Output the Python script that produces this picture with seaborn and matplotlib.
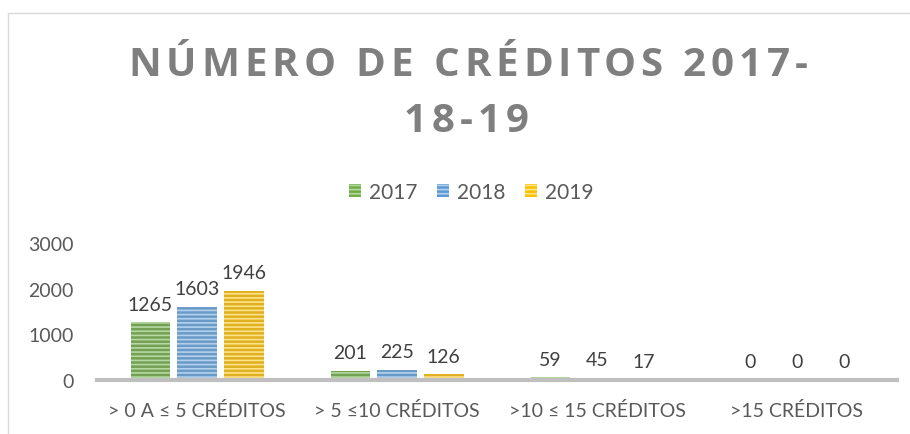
import pandas as pd
import matplotlib.pyplot as plt
import seaborn as sns
from matplotlib.patches import Patch, Rectangle

categorias = ['> 0 A ≤ 5 CRÉDITOS', '> 5 ≤10 CRÉDITOS', '>10 ≤ 15 CRÉDITOS', '>15 CRÉDITOS']
anos = ['2017', '2018', '2019']
valores_2017 = [1265, 201, 59, 0]
valores_2018 = [1603, 225, 45, 0]
valores_2019 = [1946, 126, 17, 0]

colores = ['#70AD47', '#5B9BD5', '#FFC000']
rayas = ['#B5D9A0', '#B3D1EE', '#FFE38A']

df = pd.DataFrame({
    'categoria': categorias * 3,
    'ano': [a for a in anos for _ in categorias],
    'valor': valores_2017 + valores_2018 + valores_2019,
})


def texto_espaciado(fig, x_centro, y, s, extra, **kw):
    """
    Texto con espaciado entre letras (como el título de Excel), en píxeles
    """
    r = fig.canvas.get_renderer()
    W = fig.bbox.width

    def ancho(txt):
        t = fig.text(0, 0, txt, **kw)
        w = t.get_window_extent(r).width
        t.remove()
        return w

    total = ancho(s) + extra * (len(s) - 1)
    x0 = x_centro - total / 2
    for i, ch in enumerate(s):
        if ch == ' ':
            continue
        izq = ancho(s[:i + 1]) - ancho(ch) + extra * i
        fig.text((x0 + izq) / W, y, ch, ha='left', va='center', **kw)


sns.set_theme(style='white')
plt.rcParams['font.family'] = ['Lato', 'DejaVu Sans']
plt.rcParams['hatch.linewidth'] = 1.2

fig = plt.figure(figsize=(9.1, 4.35), dpi=100)
ax = fig.add_axes([97 / 910, 54 / 435, 800 / 910, 137 / 435])

sns.barplot(data=df, x='categoria', y='valor', hue='ano', palette=colores,
            width=0.7, gap=0.15, legend=False, ax=ax)

for cont, raya in zip(ax.containers, rayas):
    for p in cont:
        p.set_hatch('----')
        p.set_edgecolor(raya)
        p.set_linewidth(0)
    ax.bar_label(cont, padding=7, fontsize=14, color='#404040')

ax.set_ylim(0, 3000)
ax.set_yticks([0, 1000, 2000, 3000])
ax.set_xlabel('')
ax.set_ylabel('')
ax.tick_params(axis='y', length=0, pad=17, labelsize=14, labelcolor='#595959')
ax.tick_params(axis='x', length=0, pad=15, labelsize=14, labelcolor='#595959')
for s in ['top', 'right', 'left']:
    ax.spines[s].set_visible(False)
ax.spines['bottom'].set_color('#BFBFBF')
ax.spines['bottom'].set_linewidth(3)

# marco del gráfico
fig.patches.append(Rectangle((8 / 910, -0.05), 1.0, 1.05 - 14 / 435, transform=fig.transFigure,
                             fill=False, edgecolor='#D9D9D9', linewidth=1))

estilo_titulo = dict(fontsize=29, fontweight='bold', color='#7F7F7F', family='Open Sans')
texto_espaciado(fig, 468, 1 - 65 / 435, 'NÚMERO DE CRÉDITOS 2017-', 4.9, **estilo_titulo)
texto_espaciado(fig, 466, 1 - 122 / 435, '18-19', 4.9, **estilo_titulo)

handles = [Patch(facecolor=c, edgecolor=r, hatch='----', linewidth=0) for c, r in zip(colores, rayas)]
fig.legend(handles, anos, loc='center', bbox_to_anchor=(471 / 910, 1 - 193 / 435), ncol=3,
           frameon=False, fontsize=15, labelcolor='#595959', handlelength=0.6, handleheight=0.6,
           handletextpad=0.35, columnspacing=0.95)

fig.savefig('out.png', dpi=100, facecolor='white')
